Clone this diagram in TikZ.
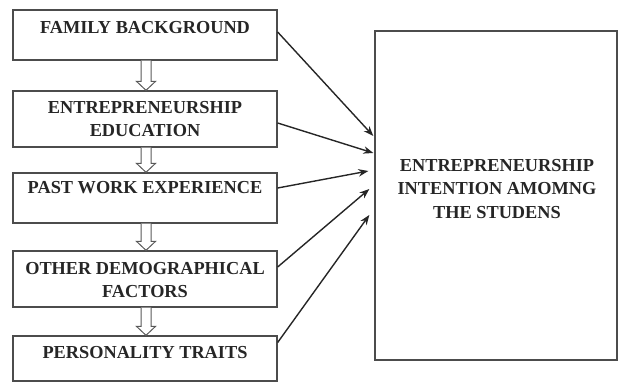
\documentclass[tikz,border=0pt]{standalone}
\usepackage{fontspec}
\setmainfont{Liberation Serif}
\usetikzlibrary{arrows.meta,calc}
\tikzset{
  box/.style={draw=black!70, line width=1.3pt, minimum width=264pt, inner sep=0pt},
  txt/.style={font=\fontsize{18.3}{23.5}\selectfont\bfseries, text=black!85, align=center, inner sep=0pt},
  conn/.style={draw=black!85, line width=1.4pt, -{Stealth[length=10pt,width=7.5pt]}},
  hollow/.style={draw=black!65, line width=1pt, fill=white},
}
\begin{document}
\begin{tikzpicture}[x=1pt,y=-1pt]
\useasboundingbox (0,0) rectangle (619,382);
\node[box, minimum height=50pt] (b1) at (145,35) {};
\node[box, minimum height=56pt] (b2) at (145,119) {};
\node[box, minimum height=50pt] (b3) at (145,198) {};
\node[box, minimum height=56pt] (b4) at (145,279) {};
\node[box, minimum height=45pt] (b5) at (145,358.5) {};
\node[draw=black!70, line width=1.3pt, minimum width=242pt, minimum height=329pt, inner sep=0pt] (big) at (496,195.5) {};

\node[txt] (t1) at (145,28) {FAMILY BACKGROUND};
\node[txt] (t2) at (145,119) {ENTREPRENEURSHIP\\EDUCATION};
\node[txt] (t3) at (145,188) {PAST WORK EXPERIENCE};
\node[txt] (t4) at (145,280) {OTHER DEMOGRAPHICAL\\FACTORS};
\node[txt] (t5) at (145,353) {PERSONALITY TRAITS};
\node[txt] (tb) at (497,189) {ENTREPRENEURSHIP\\INTENTION AMOMNG\\THE STUDENS};

% hollow arrows between boxes
\foreach \a/\b in {b1/b2,b2/b3,b3/b4,b4/b5}{
  \draw[hollow] ($(\a.south)+(-4,0)$) -- ($(\b.north)+(-4,-9)$) -- ($(\b.north)+(-8.5,-9)$)
    -- ($(\b.north)+(1,0)$) -- ($(\b.north)+(10.5,-9)$) -- ($(\b.north)+(6,-9)$)
    -- ($(\a.south)+(6,0)$);
}

% connectors
\draw[conn] ($(b1.east)+(0,-3)$) -- ($(big.west)+(-1,-59.5)$);
\draw[conn] ($(b2.east)+(0,4)$) -- ($(big.west)+(-1,-42.5)$);
\draw[conn] ($(b3.east)+(0,-10)$) -- ($(big.west)+(-6,-24.5)$);
\draw[conn] ($(b4.east)+(0,-12)$) -- ($(big.west)+(-5,-6.5)$);
\draw[conn] ($(b5.east)+(0,-16)$) -- ($(big.west)+(-5,19.5)$);
\end{tikzpicture}
\end{document}
